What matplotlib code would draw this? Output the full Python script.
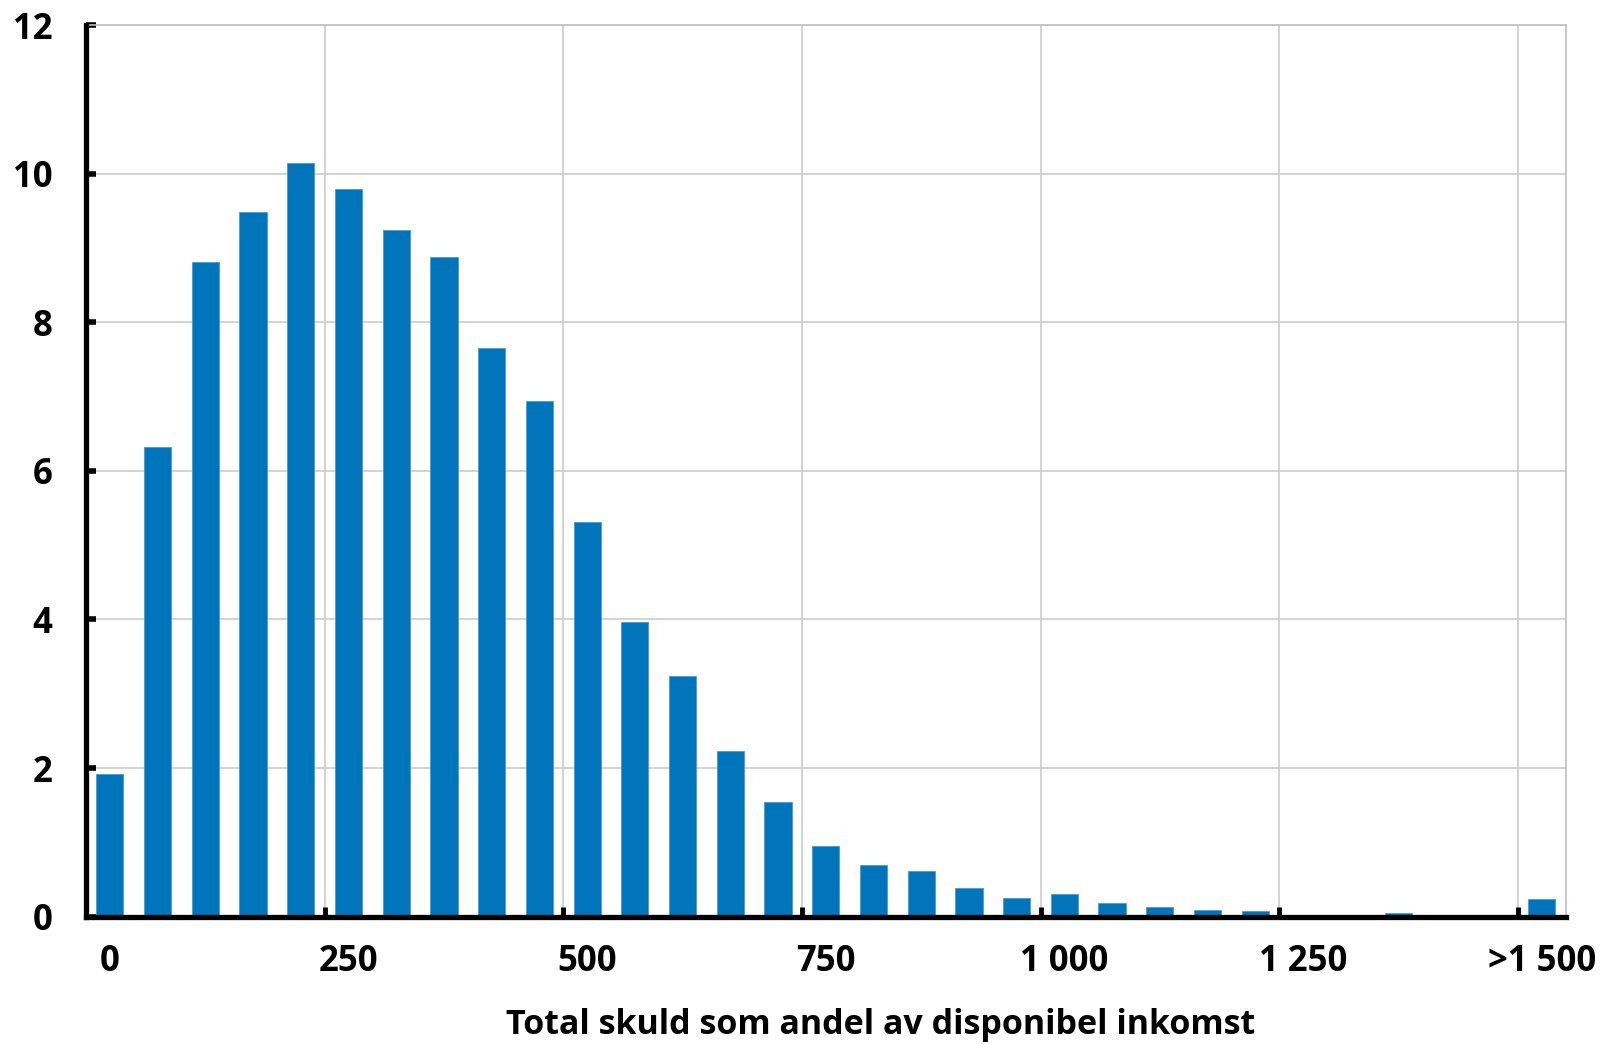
import matplotlib
matplotlib.use("Agg")
import numpy as np
import matplotlib.pyplot as plt
from matplotlib.ticker import FixedLocator

plt.rcParams['font.family'] = ['Open Sans', 'DejaVu Sans']
plt.rcParams['font.weight'] = 'bold'

# skuldkvot (procent), klasser om 50
bins = list(range(0, 1501, 50))
shares = [1.92, 6.32, 8.81, 9.49, 10.15, 9.79, 9.24, 8.88, 7.66, 6.94,
          5.31, 3.96, 3.24, 2.23, 1.54, 0.95, 0.70, 0.62, 0.38, 0.25,
          0.31, 0.19, 0.13, 0.09, 0.07, 0.0, 0.0, 0.05, 0.0, 0.0,
          0.24]
tick_labels = ['0', '250', '500', '750', '1 000', '1 250', '>1 500']
yticks = [0, 2, 4, 6, 8, 10, 12]
xlabel = 'Total skuld som andel av disponibel inkomst'

fig = plt.figure(figsize=(16.04, 10.44), dpi=100)
ax = fig.add_axes([0.0536, 0.122, 0.9224, 0.854])

x = np.arange(len(bins))
ax.bar(x, shares, width=0.57, color='#0075bc', edgecolor='#4a9ad0',
       linewidth=0.6, zorder=3)

ax.set_xlim(-0.5, len(bins) - 0.5)
ax.set_ylim(0, 12)

# grupp-gränser: tickmarks + vertikala stödlinjer
bounds = [i + 4.5 for i in range(0, 26, 5)]
ax.xaxis.set_major_locator(FixedLocator(bounds))
ax.xaxis.set_minor_locator(FixedLocator(list(range(0, len(bins), 5))))
ax.set_xticklabels([''] * len(bounds))
ax.set_xticklabels(tick_labels, minor=True, fontweight='bold')
ax.tick_params(axis='x', which='major', direction='in', length=7, width=3.5,
               color='black')
ax.tick_params(axis='x', which='minor', length=0, pad=20, labelsize=25)

ax.set_yticks(yticks)
ax.set_yticklabels([str(v) for v in yticks], fontweight='bold')
ax.tick_params(axis='y', direction='in', length=7, width=4, pad=24,
               labelsize=25)

ax.grid(True, axis='both', which='major', color='#cccccc', linewidth=1.2,
        zorder=0)

for s in ['left', 'bottom']:
    ax.spines[s].set_linewidth(3.8)
    ax.spines[s].set_color('black')
    ax.spines[s].set_zorder(4)
for s in ['top', 'right']:
    ax.spines[s].set_linewidth(1.2)
    ax.spines[s].set_color('#c0c0c0')

fig.text(0.549, 0.018, xlabel, ha='center', va='center', fontsize=24.5,
         fontweight='bold')

fig.savefig('out.png', dpi=100)
